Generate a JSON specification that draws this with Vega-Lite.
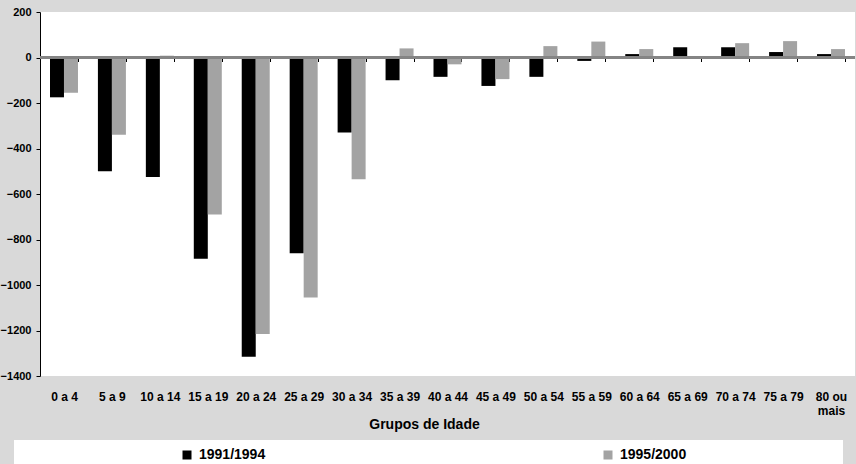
{
  "$schema": "https://vega.github.io/schema/vega-lite/v6.json",
  "width": 815,
  "height": 364,
  "autosize": {"type": "none"},
  "padding": {"left": 40, "top": 12, "right": 1, "bottom": 88},
  "background": "#d9d9d9",
  "config": {
    "font": "Liberation Sans",
    "view": {"fill": "white", "stroke": null}
  },
  "data": {
    "values": [
      {"grupo": "0 a 4", "periodo": "1991/1994", "saldo": -175},
      {"grupo": "0 a 4", "periodo": "1995/2000", "saldo": -155},
      {"grupo": "5 a 9", "periodo": "1991/1994", "saldo": -500},
      {"grupo": "5 a 9", "periodo": "1995/2000", "saldo": -340},
      {"grupo": "10 a 14", "periodo": "1991/1994", "saldo": -525},
      {"grupo": "10 a 14", "periodo": "1995/2000", "saldo": 8},
      {"grupo": "15 a 19", "periodo": "1991/1994", "saldo": -885},
      {"grupo": "15 a 19", "periodo": "1995/2000", "saldo": -690},
      {"grupo": "20 a 24", "periodo": "1991/1994", "saldo": -1315},
      {"grupo": "20 a 24", "periodo": "1995/2000", "saldo": -1215},
      {"grupo": "25 a 29", "periodo": "1991/1994", "saldo": -860},
      {"grupo": "25 a 29", "periodo": "1995/2000", "saldo": -1055},
      {"grupo": "30 a 34", "periodo": "1991/1994", "saldo": -330},
      {"grupo": "30 a 34", "periodo": "1995/2000", "saldo": -535},
      {"grupo": "35 a 39", "periodo": "1991/1994", "saldo": -100},
      {"grupo": "35 a 39", "periodo": "1995/2000", "saldo": 40},
      {"grupo": "40 a 44", "periodo": "1991/1994", "saldo": -85},
      {"grupo": "40 a 44", "periodo": "1995/2000", "saldo": -30},
      {"grupo": "45 a 49", "periodo": "1991/1994", "saldo": -125},
      {"grupo": "45 a 49", "periodo": "1995/2000", "saldo": -95},
      {"grupo": "50 a 54", "periodo": "1991/1994", "saldo": -85},
      {"grupo": "50 a 54", "periodo": "1995/2000", "saldo": 50},
      {"grupo": "55 a 59", "periodo": "1991/1994", "saldo": -15},
      {"grupo": "55 a 59", "periodo": "1995/2000", "saldo": 70},
      {"grupo": "60 a 64", "periodo": "1991/1994", "saldo": 15},
      {"grupo": "60 a 64", "periodo": "1995/2000", "saldo": 37},
      {"grupo": "65 a 69", "periodo": "1991/1994", "saldo": 45},
      {"grupo": "65 a 69", "periodo": "1995/2000", "saldo": -6},
      {"grupo": "70 a 74", "periodo": "1991/1994", "saldo": 45},
      {"grupo": "70 a 74", "periodo": "1995/2000", "saldo": 63},
      {"grupo": "75 a 79", "periodo": "1991/1994", "saldo": 24},
      {"grupo": "75 a 79", "periodo": "1995/2000", "saldo": 72},
      {"grupo": "80 ou mais", "periodo": "1991/1994", "saldo": 15},
      {"grupo": "80 ou mais", "periodo": "1995/2000", "saldo": 37}
    ]
  },
  "layer": [
    {
      "mark": {"type": "bar"},
      "encoding": {
        "x": {
          "field": "grupo",
          "type": "nominal",
          "sort": null,
          "scale": {"paddingInner": 0.416, "paddingOuter": 0.208},
          "axis": {
            "title": "Grupos de Idade",
            "titleFont": "Liberation Sans",
            "titleFontSize": 14,
            "titleFontWeight": "bold",
            "titleColor": "black",
            "titleX": 384,
            "titleY": 360,
            "titleBaseline": "top",
            "titleAlign": "center",
            "offset": -318.5,
            "domain": false,
            "ticks": true,
            "tickBand": "extent",
            "tickSize": 4,
            "tickColor": "black",
            "tickWidth": 1,
            "labelAngle": 0,
            "labelPadding": 330,
            "labelFontSize": 12,
            "labelFontWeight": "bold",
            "labelColor": "black",
            "labelLineHeight": 14,
            "labelExpr": "datum.label == '80 ou mais' ? ['80  ou', 'mais'] : datum.label"
          }
        },
        "xOffset": {"field": "periodo", "type": "nominal", "scale": {"paddingInner": 0, "paddingOuter": 0}},
        "y": {
          "field": "saldo",
          "type": "quantitative",
          "scale": {"domain": [-1400, 200], "nice": false, "zero": false},
          "axis": {
            "title": null,
            "values": [-1400, -1200, -1000, -800, -600, -400, -200, 0, 200],
            "format": "d",
            "grid": false,
            "domainColor": "black",
            "domainWidth": 1,
            "tickColor": "black",
            "tickSize": 4,
            "labelPadding": 5,
            "labelFontSize": 11,
            "labelFontWeight": "bold",
            "labelColor": "black"
          }
        },
        "color": {
          "field": "periodo",
          "type": "nominal",
          "scale": {"domain": ["1991/1994", "1995/2000"], "range": ["#000000", "#a3a3a3"]},
          "legend": {
            "orient": "none",
            "legendX": -26,
            "legendY": 428,
            "direction": "horizontal",
            "title": " ",
            "titleOrient": "right",
            "titlePadding": 149,
            "padding": 8,
            "fillColor": "white",
            "symbolType": "square",
            "symbolSize": 81,
            "symbolStrokeWidth": 0,
            "symbolOffset": 158,
            "labelOffset": 5,
            "columnPadding": 177,
            "labelFontSize": 14,
            "labelFontWeight": "bold",
            "labelColor": "black"
          }
        }
      }
    },
    {
      "mark": {"type": "rule", "color": "#858585", "strokeWidth": 1.5},
      "encoding": {"y": {"datum": 0}}
    }
  ]
}
